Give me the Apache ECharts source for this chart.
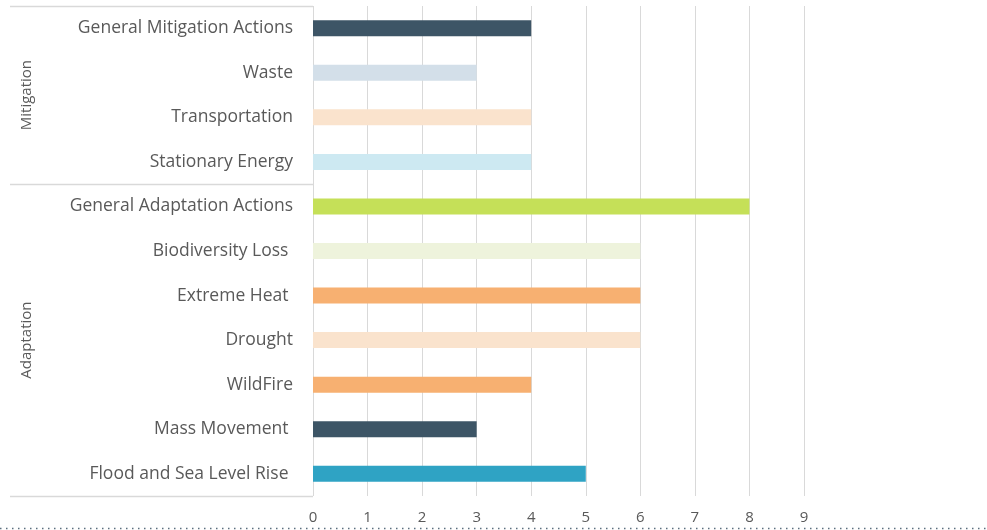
<!DOCTYPE html>
<html>
<head>
<meta charset="utf-8">
<script src="https://cdn.jsdelivr.net/npm/echarts@6/dist/echarts.min.js"></script>
<style>
html,body{margin:0;padding:0;background:#fff;}
#chart{width:987px;height:530px;}
</style>
</head>
<body>
<div id="chart"></div>
<script>
const categories = [
  'General Mitigation Actions', 'Waste', 'Transportation', 'Stationary Energy',
  'General Adaptation Actions', 'Biodiversity Loss ', 'Extreme Heat ', 'Drought',
  'WildFire', 'Mass Movement ', 'Flood and Sea Level Rise '
];
const values = [4, 3, 4, 4, 8, 6, 6, 6, 4, 3, 5];
const barColors = [
  '#3d5566', '#d3dfe9', '#fae3cd', '#cde9f2',
  '#c5e058', '#eef3dc', '#f7b071', '#fae3cd',
  '#f7b071', '#3d5566', '#2fa3c4'
];
const groupNames = ['Mitigation', 'Adaptation'];
const groupSizes = [4, 7];
const xTicks = [0, 1, 2, 3, 4, 5, 6, 7, 8, 9];

const chart = echarts.init(document.getElementById('chart'));
const labelColor = '#595959';
const font = '"Open Sans", "Noto Sans", sans-serif';

chart.setOption({
  animation: false,
  backgroundColor: '#ffffff',
  grid: { left: 313, right: 183, top: 6, bottom: 34, containLabel: false },
  xAxis: {
    type: 'value',
    min: xTicks[0],
    max: xTicks[xTicks.length - 1],
    interval: 1,
    axisLine: { show: false },
    axisTick: { show: false },
    splitLine: { show: true, lineStyle: { color: '#d9d9d9', width: 1 } },
    axisLabel: { color: labelColor, fontFamily: font, fontSize: 15, margin: 14 }
  },
  yAxis: {
    type: 'category',
    data: categories,
    inverse: true,
    axisLine: { show: false },
    axisTick: { show: false },
    splitLine: { show: false },
    axisLabel: { color: labelColor, fontFamily: font, fontSize: 17.5, margin: 20 }
  },
  series: [{
    type: 'bar',
    data: values.map((v, i) => ({ value: v, itemStyle: { color: barColors[i] } })),
    barWidth: 16
  }]
});

// Group brackets on the left, positioned from the category axis
const gridTop = chart.convertToPixel({ yAxisIndex: 0 }, categories[0]);
const p1 = chart.convertToPixel({ yAxisIndex: 0 }, categories[1]);
const band = p1 - gridTop;
const x0 = chart.convertToPixel({ xAxisIndex: 0 }, 0);
const elements = [];
let start = 0;
const lineStyle = { stroke: '#d9d9d9', lineWidth: 1.5 };
const boundaries = [0];
groupSizes.forEach(s => { start += s; boundaries.push(start); });
boundaries.forEach(b => {
  const y = Math.round(gridTop - band / 2 + b * band) + 0.5;
  elements.push({ type: 'line', shape: { x1: 10, y1: y, x2: x0, y2: y }, style: lineStyle, silent: true });
});
groupNames.forEach((name, gi) => {
  const yA = gridTop - band / 2 + boundaries[gi] * band;
  const yB = gridTop - band / 2 + boundaries[gi + 1] * band;
  elements.push({
    type: 'text',
    x: 27, y: (yA + yB) / 2,
    rotation: Math.PI / 2,
    style: {
      text: name, fill: labelColor,
      font: '15px "Liberation Sans Narrow", "Open Sans", sans-serif',
      align: 'center', verticalAlign: 'middle'
    },
    silent: true
  });
});
elements.push({
  type: 'line',
  shape: { x1: 0, y1: 528.5, x2: 987, y2: 528.5 },
  style: { stroke: '#5b6e7e', lineWidth: 1.5, lineDash: [1.5, 4.5] },
  silent: true
});
chart.setOption({ graphic: { elements } });
</script>
</body>
</html>
